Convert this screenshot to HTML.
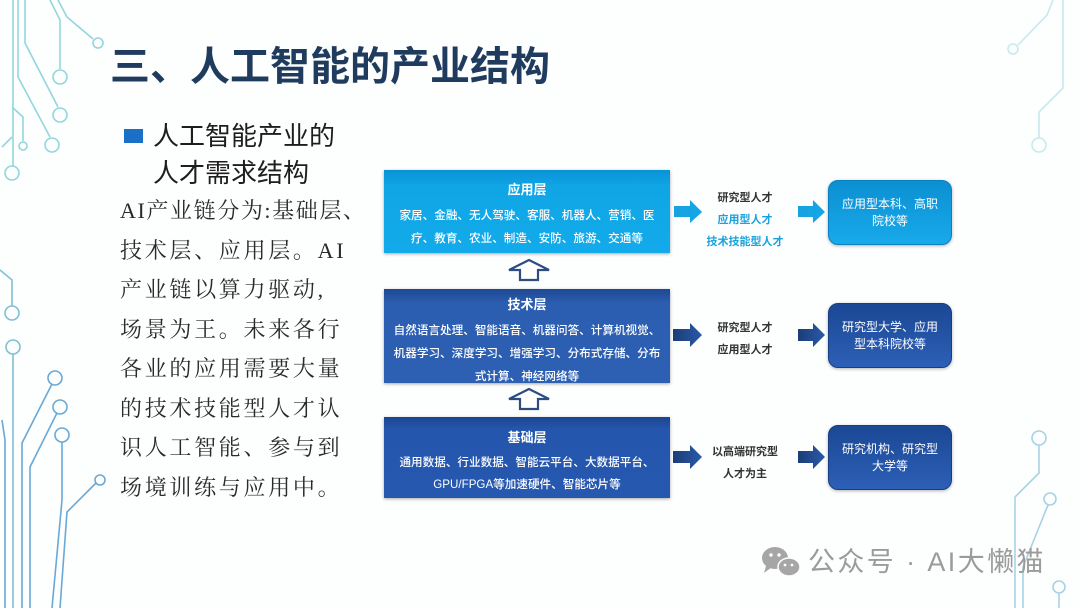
<!DOCTYPE html>
<html><head><meta charset="utf-8">
<style>
*{margin:0;padding:0;box-sizing:border-box}
body{width:1080px;height:608px;overflow:hidden;background:#fdfefe;position:relative;font-family:"Liberation Sans","Noto Sans CJK SC",sans-serif}
.abs{position:absolute}
.title{left:110px;top:40px;font-size:40px;font-weight:bold;color:#1f3b5e;white-space:nowrap;letter-spacing:0px;font-family:"Liberation Sans","Noto Sans CJK SC",sans-serif;line-height:54px}
.sub{left:153px;top:118px;font-size:26px;color:#1e1e1e;line-height:37px;white-space:nowrap}
.bul{left:124px;top:129px;width:19px;height:14px;background:#1a6fc7}
.body{left:120px;top:191px;width:260px;font-family:"Liberation Serif","Noto Serif CJK SC",serif;font-size:22px;line-height:39.5px;color:#2a2a2a;letter-spacing:2.7px;white-space:nowrap}
.box{left:384px;width:286px;color:#fff;text-align:center;box-shadow:0 1px 3px rgba(0,0,0,.35)}
.box h4{font-size:13px;font-weight:bold;line-height:18px}
.box p{font-size:11.6px;line-height:23px;font-weight:500}
.mid{font-size:11px;font-weight:bold;color:#333;text-align:center;line-height:22px;white-space:nowrap}
.rb{left:828px;width:124px;border-radius:10px;color:#fff;text-align:center;font-size:12px;line-height:17px;display:flex;align-items:center;justify-content:center;box-shadow:0 1px 3px rgba(0,0,0,.3)}
.wm{left:808px;top:545px;font-size:27px;color:#9b9b9b;white-space:nowrap;line-height:34px;letter-spacing:2.4px}
</style></head><body>

<svg class="abs" style="left:0;top:0" width="1080" height="608" viewBox="0 0 1080 608">
 <g fill="none" stroke="#93d6dd" stroke-width="1.6">
  <path d="M13 0V166"/><circle cx="12" cy="173" r="7"/>
  <path d="M18 0V77L50 137"/><circle cx="52" cy="145" r="7"/>
  <path d="M25 0V43L58 107"/><circle cx="60" cy="115" r="7"/>
  <path d="M50 0L60 20V69"/><circle cx="60" cy="77" r="7"/>
  <path d="M58 0L67 17L93 39"/><circle cx="98" cy="43" r="5"/>
  <path d="M12 107L23 117V141"/><circle cx="23" cy="146" r="4"/>
  <path d="M2 147L12 137"/>
 </g>
 <g fill="none" stroke="#7fc0d4" stroke-width="1.6">
  <path d="M0 270L12 280V306"/><circle cx="12" cy="313" r="7"/>
  <circle cx="13" cy="347" r="7"/><path d="M13 354V608"/>
 </g>
 <g fill="none" stroke="#6aa9d6" stroke-width="1.6">
  <circle cx="55" cy="378" r="7"/><path d="M52 384L22 443V608"/>
  <circle cx="60" cy="407" r="7"/><path d="M57 413L30 467V608"/>
  <circle cx="62" cy="435" r="7"/><path d="M62 442V500L52 608"/>
  <circle cx="100" cy="480" r="5"/><path d="M96 483L67 512L60 608"/>
  <path d="M2 420L5 440V608"/>
 </g>
 <g fill="none" stroke="#c6eaee" stroke-width="1.6">
  <path d="M1053 0L1047 15L1018 45"/><circle cx="1013" cy="49" r="5"/>
  <path d="M1063 0V88L1039 112V138"/><circle cx="1039" cy="145" r="7"/>
 </g>
 <g fill="none" stroke="#a8d2e4" stroke-width="1.6">
  <circle cx="1039" cy="438" r="7"/><path d="M1039 445V473L1015 497V608"/>
  <circle cx="1050" cy="499" r="6"/><path d="M1048 505L1023 567V608"/>
  <circle cx="1059" cy="587" r="6"/><path d="M1059 593V608"/>
 </g>
 <!-- hollow up arrows -->
 <path d="M529 260L549 270H538V280H520V270H509Z" fill="#fff" stroke="#2d4c80" stroke-width="2.2" stroke-linejoin="miter"/>
 <path d="M529 389L549 399H538V409H520V399H509Z" fill="#fff" stroke="#2d4c80" stroke-width="2.2" stroke-linejoin="miter"/>
 <defs>
  <linearGradient id="cy" x1="0" y1="0" x2="1" y2="0"><stop offset="0" stop-color="#1aa2df"/><stop offset="1" stop-color="#11a6e6"/></linearGradient>
  <linearGradient id="nv" x1="0" y1="0" x2="1" y2="0"><stop offset="0" stop-color="#1b3d78"/><stop offset="1" stop-color="#2a5aa8"/></linearGradient>
 </defs>
 <!-- right arrows row1 -->
 <path d="M674 206H690V200L702 212L690 223V217H674Z" fill="url(#cy)"/>
 <path d="M798 206H813V200L825 212L813 223V217H798Z" fill="url(#cy)"/>
 <!-- row2 -->
 <path d="M673 329H690V323L702 335L690 347V341H673Z" fill="url(#nv)"/>
 <path d="M798 329H813V323L825 335L813 347V341H798Z" fill="url(#nv)"/>
 <!-- row3 -->
 <path d="M673 451H690V445L702 457L690 469V463H673Z" fill="url(#nv)"/>
 <path d="M798 451H813V445L825 457L813 469V463H798Z" fill="url(#nv)"/>
 <!-- wechat icon -->
 <ellipse cx="775" cy="558" rx="13" ry="11" fill="#a6a6a6"/>
 <path d="M766 566L764 573L772 567Z" fill="#a6a6a6"/>
 <ellipse cx="789" cy="567" rx="11" ry="9" fill="#a6a6a6" stroke="#fdfefe" stroke-width="1.5"/>
 <circle cx="771" cy="555" r="1.7" fill="#fff"/><circle cx="779" cy="555" r="1.7" fill="#fff"/>
 <circle cx="785" cy="565" r="1.4" fill="#fff"/><circle cx="792" cy="565" r="1.4" fill="#fff"/>
</svg>

<div class="abs title">三、人工智能的产业结构</div>
<div class="abs bul"></div>
<div class="abs sub">人工智能产业的<br>人才需求结构</div>
<div class="abs body"><span style="letter-spacing:1.6px">AI产业链分为:基础层、</span><br>技术层、应用层。AI<br>产业链以算力驱动,<br>场景为王。未来各行<br>各业的应用需要大量<br>的技术技能型人才认<br>识人工智能、参与到<br>场境训练与应用中。</div>

<div class="abs box" style="top:170px;height:83px;background:linear-gradient(#0a92d6,#10a6e6 20%,#12aaea);padding-top:11px">
 <h4>应用层</h4>
 <p style="margin-top:5px">家居、金融、无人驾驶、客服、机器人、营销、医<br>疗、教育、农业、制造、安防、旅游、交通等</p>
</div>
<div class="abs box" style="top:289px;height:94px;background:linear-gradient(#1d4893,#2b5db0 15%,#2d5fb3);padding-top:7px">
 <h4>技术层</h4>
 <p style="margin-top:5px">自然语言处理、智能语音、机器问答、计算机视觉、<br>机器学习、深度学习、增强学习、分布式存储、分布<br>式计算、神经网络等</p>
</div>
<div class="abs box" style="top:417px;height:81px;background:linear-gradient(#1b4590,#2556ad 15%,#2658b0);padding-top:12px">
 <h4>基础层</h4>
 <p style="margin-top:5px;line-height:22px">通用数据、行业数据、智能云平台、大数据平台、<br>GPU/FPGA等加速硬件、智能芯片等</p>
</div>

<div class="abs mid" style="left:700px;top:187px;width:90px">研究型人才<br><span style="color:#1ba3dd">应用型人才</span><br><span style="color:#1ba3dd">技术技能型人才</span></div>
<div class="abs mid" style="left:700px;top:317px;width:90px">研究型人才<br>应用型人才</div>
<div class="abs mid" style="left:700px;top:441px;width:90px">以高端研究型<br>人才为主</div>

<div class="abs rb" style="top:180px;height:65px;background:linear-gradient(#0c8fd3,#17aaea);border:1px solid #0b7fc0">应用型本科、高职<br>院校等</div>
<div class="abs rb" style="top:303px;height:65px;background:linear-gradient(#1b4894,#2c5fb6);border:1px solid #173e80">研究型大学、应用<br>型本科院校等</div>
<div class="abs rb" style="top:425px;height:65px;background:linear-gradient(#1b4894,#2c5fb6);border:1px solid #173e80">研究机构、研究型<br>大学等</div>

<div class="abs wm">公众号 · AI大懒猫</div>
</body></html>
